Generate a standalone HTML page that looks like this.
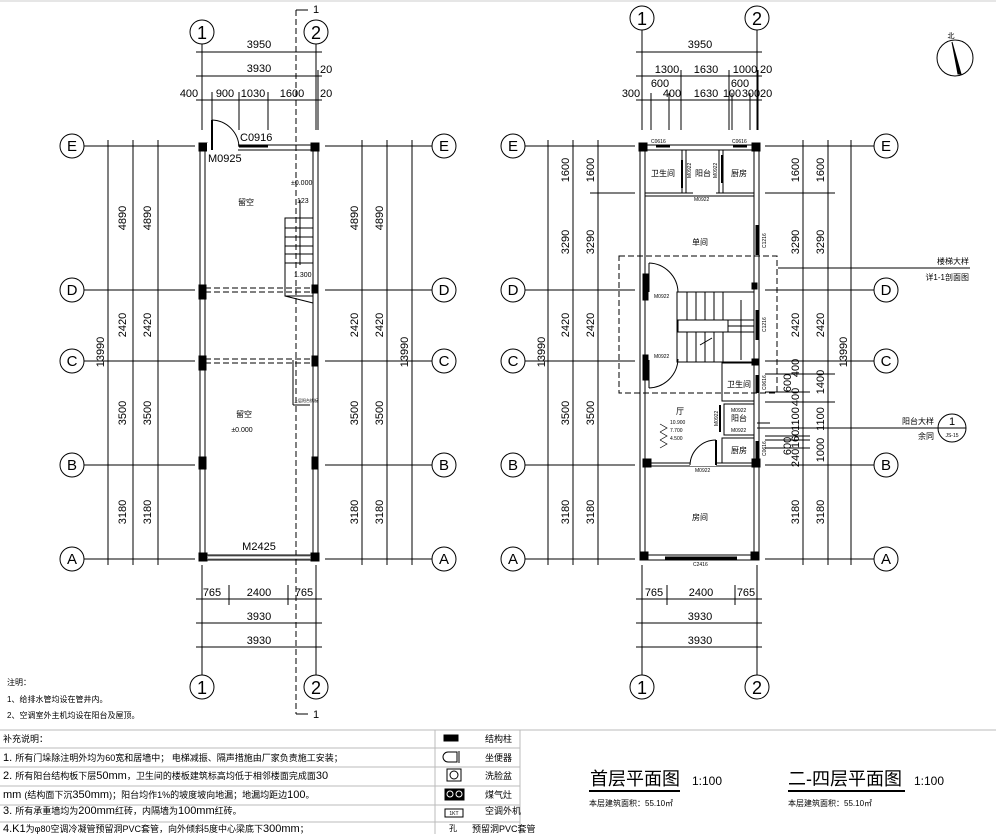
<!DOCTYPE html>
<html><head><meta charset="utf-8"><style>
html,body{margin:0;padding:0;background:#fff;}
svg{display:block;font-family:"Liberation Sans","Noto Sans CJK SC",sans-serif;}
.t{font-size:11px;fill:#000;}
.s{font-size:7px;fill:#000;}
.c{font-size:8px;fill:#000;}
.tb{font-size:9px;fill:#000;}
</style></head><body>
<svg width="996" height="834" viewBox="0 0 996 834" xmlns="http://www.w3.org/2000/svg" stroke="#000" fill="none" stroke-width="1">
<rect x="0" y="0" width="996" height="834" fill="#fff" stroke="none"/>
<line x1="0" y1="1" x2="996" y2="1" stroke="#ccc"/>

<!-- ================= LEFT PLAN ================= -->
<g>
<circle cx="202" cy="32" r="12"/><circle cx="316" cy="32" r="12"/>
<text x="202" y="39" class="t" style="font-size:18px" text-anchor="middle" stroke="none" fill="#000">1</text>
<text x="316" y="39" class="t" style="font-size:18px" text-anchor="middle" stroke="none" fill="#000">2</text>
<line x1="202" y1="44" x2="202" y2="130"/><line x1="316" y1="44" x2="316" y2="130"/>
<line x1="212" y1="92" x2="212" y2="130"/><line x1="239" y1="92" x2="239" y2="130"/><line x1="268" y1="92" x2="268" y2="130"/><line x1="318" y1="70" x2="318" y2="130"/>
<line x1="196" y1="52" x2="322" y2="52"/><line x1="196" y1="76" x2="322" y2="76"/><line x1="196" y1="100" x2="322" y2="100"/>
<g stroke="none" class="t">
<text x="259" y="48" text-anchor="middle">3950</text>
<text x="259" y="72" text-anchor="middle">3930</text>
<text x="320" y="73">20</text>
<text x="189" y="97" text-anchor="middle">400</text>
<text x="225" y="97" text-anchor="middle">900</text>
<text x="253" y="97" text-anchor="middle">1030</text>
<text x="292" y="97" text-anchor="middle">1600</text>
<text x="320" y="97">20</text>
</g>
<rect x="200" y="145" width="118" height="415"/>
<rect x="205" y="150" width="108" height="405"/>
<rect x="199" y="143" width="8" height="8" fill="#000"/><rect x="311" y="143" width="8" height="8" fill="#000"/>
<rect x="199" y="285" width="7" height="14" fill="#000"/><rect x="312" y="285" width="6" height="8" fill="#000"/>
<rect x="199" y="356" width="7" height="14" fill="#000"/><rect x="312" y="356" width="6" height="10" fill="#000"/>
<rect x="199" y="457" width="7" height="12" fill="#000"/><rect x="312" y="457" width="6" height="12" fill="#000"/>
<rect x="199" y="553" width="8" height="8" fill="#000"/><rect x="311" y="553" width="8" height="8" fill="#000"/>
<rect x="207" y="143" width="31" height="9" fill="#fff" stroke="none"/>
<line x1="212" y1="120" x2="212" y2="150" stroke-width="2"/>
<path d="M212 120 A28 28 0 0 1 239 147"/>
<line x1="239" y1="146" x2="268" y2="146" stroke-width="3"/>
<text x="240" y="141" class="t" stroke="none">C0916</text>
<text x="208" y="162" class="t" stroke="none">M0925</text>
<g stroke-dasharray="6,3">
<line x1="205" y1="288" x2="313" y2="288"/><line x1="205" y1="292" x2="313" y2="292"/>
<line x1="205" y1="359" x2="313" y2="359"/><line x1="205" y1="363" x2="313" y2="363"/>
<line x1="296" y1="10" x2="296" y2="714"/>
</g>
<polyline points="296,10 308,10"/><polyline points="296,714 308,714"/>
<text x="313" y="13" class="t" stroke="none">1</text><text x="313" y="718" class="t" stroke="none">1</text>
<rect x="285" y="218" width="28" height="78"/>
<g>
<line x1="285" y1="228" x2="313" y2="228"/><line x1="285" y1="237" x2="313" y2="237"/><line x1="285" y1="246" x2="313" y2="246"/><line x1="285" y1="254" x2="313" y2="254"/><line x1="285" y1="263" x2="313" y2="263"/>
</g>
<line x1="300" y1="200" x2="300" y2="265"/><line x1="285" y1="296" x2="313" y2="303"/>
<line x1="293" y1="360" x2="293" y2="405"/><line x1="293" y1="405" x2="310" y2="405"/>
<text x="294" y="402" class="s" stroke="none" style="font-size:4px">上层阳台挑板</text>
<text x="291" y="185" class="s" stroke="none">±0.000</text>
<text x="297" y="203" class="s" stroke="none">123</text>
<text x="294" y="277" class="s" stroke="none">1.300</text>
<text x="246" y="205" class="c" stroke="none" text-anchor="middle">留空</text>
<text x="244" y="417" class="c" stroke="none" text-anchor="middle">留空</text>
<text x="242" y="432" class="s" stroke="none" text-anchor="middle">±0.000</text>
<line x1="208" y1="557" x2="310" y2="557" stroke="#fff" stroke-width="3"/>
<line x1="208" y1="556" x2="310" y2="556" stroke-width="0.6"/><line x1="208" y1="559" x2="310" y2="559" stroke-width="0.6"/>
<text x="259" y="550" class="t" stroke="none" text-anchor="middle">M2425</text>
<g>
<line x1="84" y1="146" x2="195" y2="146"/><line x1="325" y1="146" x2="432" y2="146"/>
<line x1="84" y1="290" x2="195" y2="290"/><line x1="325" y1="290" x2="432" y2="290"/>
<line x1="84" y1="361" x2="195" y2="361"/><line x1="325" y1="361" x2="432" y2="361"/>
<line x1="84" y1="465" x2="195" y2="465"/><line x1="325" y1="465" x2="432" y2="465"/>
<line x1="84" y1="559" x2="195" y2="559"/><line x1="325" y1="559" x2="432" y2="559"/>
<line x1="108" y1="140" x2="108" y2="565"/><line x1="133" y1="140" x2="133" y2="565"/><line x1="158" y1="140" x2="158" y2="565"/>
<line x1="362" y1="140" x2="362" y2="565"/><line x1="387" y1="140" x2="387" y2="565"/><line x1="412" y1="140" x2="412" y2="565"/>
</g>
<g>
<circle cx="72" cy="146" r="12"/><circle cx="72" cy="290" r="12"/><circle cx="72" cy="361" r="12"/><circle cx="72" cy="465" r="12"/><circle cx="72" cy="559" r="12"/>
<circle cx="444" cy="146" r="12"/><circle cx="444" cy="290" r="12"/><circle cx="444" cy="361" r="12"/><circle cx="444" cy="465" r="12"/><circle cx="444" cy="559" r="12"/>
</g>
<g stroke="none" class="t" style="font-size:15px" text-anchor="middle">
<text x="72" y="151">E</text><text x="72" y="295">D</text><text x="72" y="366">C</text><text x="72" y="470">B</text><text x="72" y="564">A</text>
<text x="444" y="151">E</text><text x="444" y="295">D</text><text x="444" y="366">C</text><text x="444" y="470">B</text><text x="444" y="564">A</text>
</g>
<g stroke="none" class="t" text-anchor="middle">
<text transform="translate(126,218) rotate(-90)">4890</text><text transform="translate(151,218) rotate(-90)">4890</text>
<text transform="translate(126,325) rotate(-90)">2420</text><text transform="translate(151,325) rotate(-90)">2420</text>
<text transform="translate(126,413) rotate(-90)">3500</text><text transform="translate(151,413) rotate(-90)">3500</text>
<text transform="translate(126,512) rotate(-90)">3180</text><text transform="translate(151,512) rotate(-90)">3180</text>
<text transform="translate(104,352) rotate(-90)">13990</text>
<text transform="translate(358,218) rotate(-90)">4890</text><text transform="translate(383,218) rotate(-90)">4890</text>
<text transform="translate(358,325) rotate(-90)">2420</text><text transform="translate(383,325) rotate(-90)">2420</text>
<text transform="translate(358,413) rotate(-90)">3500</text><text transform="translate(383,413) rotate(-90)">3500</text>
<text transform="translate(358,512) rotate(-90)">3180</text><text transform="translate(383,512) rotate(-90)">3180</text>
<text transform="translate(408,352) rotate(-90)">13990</text>
</g>
<line x1="202" y1="565" x2="202" y2="675"/><line x1="316" y1="565" x2="316" y2="675"/>
<line x1="229" y1="585" x2="229" y2="605"/><line x1="288" y1="585" x2="288" y2="605"/>
<line x1="196" y1="599" x2="322" y2="599"/><line x1="196" y1="623" x2="322" y2="623"/><line x1="196" y1="647" x2="322" y2="647"/>
<g stroke="none" class="t" text-anchor="middle">
<text x="212" y="596">765</text><text x="259" y="596">2400</text><text x="304" y="596">765</text>
<text x="259" y="620">3930</text><text x="259" y="644">3930</text>
</g>
<circle cx="202" cy="687" r="12"/><circle cx="316" cy="687" r="12"/>
<text x="202" y="694" class="t" style="font-size:18px" text-anchor="middle" stroke="none">1</text>
<text x="316" y="694" class="t" style="font-size:18px" text-anchor="middle" stroke="none">2</text>
</g>

<!-- ================= RIGHT PLAN ================= -->
<g>
<circle cx="642" cy="18" r="12"/><circle cx="757" cy="18" r="12"/>
<text x="642" y="25" class="t" style="font-size:18px" text-anchor="middle" stroke="none" fill="#000">1</text>
<text x="757" y="25" class="t" style="font-size:18px" text-anchor="middle" stroke="none" fill="#000">2</text>
<line x1="642" y1="30" x2="642" y2="130"/><line x1="757" y1="30" x2="757" y2="130"/>
<line x1="651" y1="93" x2="651" y2="130"/><line x1="669" y1="93" x2="669" y2="130"/><line x1="681" y1="70" x2="681" y2="130"/>
<line x1="729" y1="70" x2="729" y2="130"/><line x1="732" y1="93" x2="732" y2="130"/><line x1="750" y1="93" x2="750" y2="130"/><line x1="758" y1="70" x2="758" y2="130"/>
<line x1="636" y1="52" x2="762" y2="52"/><line x1="636" y1="76" x2="762" y2="76"/><line x1="636" y1="100" x2="762" y2="100"/>
<g stroke="none" class="t">
<text x="700" y="48" text-anchor="middle">3950</text>
<text x="667" y="73" text-anchor="middle">1300</text><text x="706" y="73" text-anchor="middle">1630</text><text x="745" y="73" text-anchor="middle">1000</text><text x="760" y="73">20</text>
<text x="660" y="87" text-anchor="middle">600</text><text x="740" y="87" text-anchor="middle">600</text>
<text x="631" y="97" text-anchor="middle">300</text><text x="672" y="97" text-anchor="middle">400</text><text x="706" y="97" text-anchor="middle">1630</text><text x="732" y="97" text-anchor="middle">100</text><text x="751" y="97" text-anchor="middle">300</text><text x="760" y="97">20</text>
</g>
<rect x="640" y="145" width="119" height="415"/>
<rect x="645" y="150" width="109" height="405"/>
<rect x="639" y="143" width="8" height="8" fill="#000"/><rect x="752" y="143" width="8" height="8" fill="#000"/>
<rect x="640" y="552" width="8" height="8" fill="#000"/><rect x="751" y="552" width="8" height="8" fill="#000"/>
<rect x="643" y="459" width="8" height="8" fill="#000"/><rect x="752" y="459" width="8" height="8" fill="#000"/>
<rect x="643" y="274" width="5" height="26" fill="#000"/><rect x="752" y="283" width="5" height="6" fill="#000"/>
<rect x="643" y="355" width="5" height="25" fill="#000"/><rect x="752" y="359" width="6" height="6" fill="#000"/>
<line x1="656" y1="146" x2="670" y2="146" stroke-width="3"/><line x1="733" y1="146" x2="747" y2="146" stroke-width="3"/>
<line x1="757" y1="225" x2="757" y2="255" stroke-width="3"/><line x1="757" y1="310" x2="757" y2="340" stroke-width="3"/>
<line x1="757" y1="375" x2="757" y2="393" stroke-width="3"/><line x1="757" y1="441" x2="757" y2="460" stroke-width="3"/>
<line x1="665" y1="558" x2="737" y2="558" stroke-width="3"/>
<rect x="645" y="150" width="37" height="43"/><rect x="686" y="150" width="33" height="43"/><rect x="723" y="150" width="31" height="43"/>
<rect x="645" y="193" width="109" height="3"/>
<line x1="682" y1="160" x2="682" y2="188" stroke-width="2"/><line x1="722" y1="155" x2="722" y2="183" stroke-width="2"/>
<line x1="693" y1="194" x2="716" y2="194" stroke="#fff" stroke-width="3"/>
<path d="M649 263 A30 30 0 0 1 678 292"/><line x1="649" y1="263" x2="649" y2="292"/>
<path d="M649 388 A30 30 0 0 0 678 359"/><line x1="649" y1="388" x2="649" y2="360"/>
<rect x="677" y="292" width="77" height="70"/>
<rect x="678" y="320" width="50" height="12"/>
<g>
<line x1="687" y1="292" x2="687" y2="320"/><line x1="696" y1="292" x2="696" y2="320"/><line x1="705" y1="292" x2="705" y2="320"/><line x1="714" y1="292" x2="714" y2="320"/><line x1="723" y1="292" x2="723" y2="320"/>
<line x1="687" y1="332" x2="687" y2="362"/><line x1="696" y1="332" x2="696" y2="362"/><line x1="705" y1="332" x2="705" y2="362"/><line x1="714" y1="332" x2="714" y2="362"/><line x1="723" y1="332" x2="723" y2="362"/>
<line x1="728" y1="320" x2="754" y2="320"/><line x1="728" y1="326" x2="754" y2="326"/><line x1="728" y1="332" x2="754" y2="332"/>
<line x1="741" y1="300" x2="741" y2="360"/><line x1="700" y1="345" x2="712" y2="338"/>
</g>
<rect x="722" y="363" width="32" height="38"/><rect x="724" y="404" width="30" height="31"/><rect x="722" y="438" width="32" height="25"/>
<line x1="720" y1="405" x2="720" y2="432" stroke-width="2"/>
<line x1="645" y1="463" x2="754" y2="463"/><line x1="645" y1="466" x2="754" y2="466"/>
<line x1="690" y1="464" x2="716" y2="464" stroke="#fff" stroke-width="4"/>
<path d="M690 465 A26 26 0 0 1 716 440"/><line x1="716" y1="440" x2="716" y2="465" stroke-width="2"/>
<line x1="757" y1="423" x2="770" y2="423"/><line x1="757" y1="428" x2="770" y2="428"/>
<rect x="619" y="256" width="158" height="137" stroke-dasharray="6,3"/>
<line x1="778" y1="268" x2="970" y2="268"/>
<line x1="757" y1="428" x2="938" y2="428"/>
<circle cx="952" cy="428" r="14"/><line x1="938" y1="428" x2="966" y2="428"/>
<g stroke="none" class="c">
<text x="969" y="264" text-anchor="end">楼梯大样</text>
<text x="969" y="280" text-anchor="end">详1-1剖面图</text>
<text x="934" y="424" text-anchor="end">阳台大样</text>
<text x="934" y="439" text-anchor="end">余同</text>
<text x="952" y="425" class="t" text-anchor="middle">1</text>
<text x="952" y="437" class="s" style="font-size:5px" text-anchor="middle">JS-15</text>
<text x="663" y="176" text-anchor="middle">卫生间</text><text x="703" y="176" text-anchor="middle">阳台</text><text x="739" y="176" text-anchor="middle">厨房</text>
<text x="700" y="245" text-anchor="middle">单间</text>
<text x="739" y="387" text-anchor="middle">卫生间</text><text x="739" y="421" text-anchor="middle">阳台</text><text x="739" y="453" text-anchor="middle">厨房</text>
<text x="680" y="414" text-anchor="middle">厅</text>
<text x="700" y="520" text-anchor="middle">房间</text>
</g>
<g stroke="none" class="s" style="font-size:5px">
<text x="651" y="143">C0616</text><text x="732" y="143">C0616</text>
<text x="694" y="201">M0922</text><text x="654" y="298">M0922</text><text x="654" y="358">M0922</text>
<text x="731" y="412">M0922</text><text x="731" y="432">M0922</text><text x="695" y="472">M0922</text>
<text x="693" y="566">C2416</text>
<text x="670" y="424">10.900</text><text x="670" y="432">7.700</text><text x="670" y="440">4.500</text>
</g>
<g stroke="none" class="s" style="font-size:5px">
<text transform="translate(691,178) rotate(-90)">M0922</text>
<text transform="translate(717,178) rotate(-90)">M0922</text>
<text transform="translate(766,248) rotate(-90)">C1216</text>
<text transform="translate(766,332) rotate(-90)">C1216</text>
<text transform="translate(766,390) rotate(-90)">C0616</text>
<text transform="translate(766,456) rotate(-90)">C0616</text>
<text transform="translate(718,426) rotate(-90)">M0922</text>
</g>
<path d="M660 424 l7 4 l-7 4 M660 432 l7 4 l-7 4 M660 440 l7 4 l-7 4" stroke-width="0.7"/>
<g>
<line x1="525" y1="146" x2="635" y2="146"/><line x1="765" y1="146" x2="874" y2="146"/>
<line x1="525" y1="290" x2="635" y2="290"/><line x1="765" y1="290" x2="874" y2="290"/>
<line x1="525" y1="361" x2="635" y2="361"/><line x1="765" y1="361" x2="874" y2="361"/>
<line x1="525" y1="465" x2="635" y2="465"/><line x1="765" y1="465" x2="874" y2="465"/>
<line x1="525" y1="559" x2="635" y2="559"/><line x1="765" y1="559" x2="874" y2="559"/>
<line x1="548" y1="140" x2="548" y2="565"/><line x1="573" y1="140" x2="573" y2="565"/><line x1="598" y1="140" x2="598" y2="565"/>
<line x1="803" y1="140" x2="803" y2="565"/><line x1="828" y1="140" x2="828" y2="565"/><line x1="851" y1="140" x2="851" y2="565"/>
<line x1="765" y1="193" x2="835" y2="193"/><line x1="590" y1="193" x2="635" y2="193"/>
<line x1="765" y1="374" x2="835" y2="374"/><line x1="765" y1="392" x2="810" y2="392"/><line x1="765" y1="402" x2="835" y2="402"/>
<line x1="765" y1="436" x2="810" y2="436"/><line x1="765" y1="440" x2="810" y2="440"/><line x1="765" y1="448" x2="810" y2="448"/>
</g>
<g>
<circle cx="513" cy="146" r="12"/><circle cx="513" cy="290" r="12"/><circle cx="513" cy="361" r="12"/><circle cx="513" cy="465" r="12"/><circle cx="513" cy="559" r="12"/>
<circle cx="886" cy="146" r="12"/><circle cx="886" cy="290" r="12"/><circle cx="886" cy="361" r="12"/><circle cx="886" cy="465" r="12"/><circle cx="886" cy="559" r="12"/>
</g>
<g stroke="none" class="t" style="font-size:15px" text-anchor="middle">
<text x="513" y="151">E</text><text x="513" y="295">D</text><text x="513" y="366">C</text><text x="513" y="470">B</text><text x="513" y="564">A</text>
<text x="886" y="151">E</text><text x="886" y="295">D</text><text x="886" y="366">C</text><text x="886" y="470">B</text><text x="886" y="564">A</text>
</g>
<g stroke="none" class="t" text-anchor="middle">
<text transform="translate(569,170) rotate(-90)">1600</text><text transform="translate(594,170) rotate(-90)">1600</text>
<text transform="translate(569,242) rotate(-90)">3290</text><text transform="translate(594,242) rotate(-90)">3290</text>
<text transform="translate(569,325) rotate(-90)">2420</text><text transform="translate(594,325) rotate(-90)">2420</text>
<text transform="translate(569,413) rotate(-90)">3500</text><text transform="translate(594,413) rotate(-90)">3500</text>
<text transform="translate(569,512) rotate(-90)">3180</text><text transform="translate(594,512) rotate(-90)">3180</text>
<text transform="translate(545,352) rotate(-90)">13990</text>
<text transform="translate(799,170) rotate(-90)">1600</text><text transform="translate(824,170) rotate(-90)">1600</text>
<text transform="translate(799,242) rotate(-90)">3290</text><text transform="translate(824,242) rotate(-90)">3290</text>
<text transform="translate(799,325) rotate(-90)">2420</text><text transform="translate(824,325) rotate(-90)">2420</text>
<text transform="translate(799,368) rotate(-90)">400</text><text transform="translate(791,383) rotate(-90)">600</text>
<text transform="translate(799,397) rotate(-90)">400</text><text transform="translate(824,382) rotate(-90)">1400</text>
<text transform="translate(799,419) rotate(-90)">1100</text><text transform="translate(824,419) rotate(-90)">1100</text>
<text transform="translate(799,439) rotate(-90)">160</text><text transform="translate(791,446) rotate(-90)">600</text>
<text transform="translate(799,458) rotate(-90)">240</text><text transform="translate(824,450) rotate(-90)">1000</text>
<text transform="translate(799,512) rotate(-90)">3180</text><text transform="translate(824,512) rotate(-90)">3180</text>
<text transform="translate(847,352) rotate(-90)">13990</text>
</g>
<line x1="642" y1="565" x2="642" y2="675"/><line x1="757" y1="565" x2="757" y2="675"/>
<line x1="667" y1="585" x2="667" y2="605"/><line x1="735" y1="585" x2="735" y2="605"/>
<line x1="636" y1="599" x2="762" y2="599"/><line x1="636" y1="623" x2="762" y2="623"/><line x1="636" y1="647" x2="762" y2="647"/>
<g stroke="none" class="t" text-anchor="middle">
<text x="654" y="596">765</text><text x="701" y="596">2400</text><text x="746" y="596">765</text>
<text x="700" y="620">3930</text><text x="700" y="644">3930</text>
</g>
<circle cx="642" cy="687" r="12"/><circle cx="757" cy="687" r="12"/>
<text x="642" y="694" class="t" style="font-size:18px" text-anchor="middle" stroke="none">1</text>
<text x="757" y="694" class="t" style="font-size:18px" text-anchor="middle" stroke="none">2</text>
</g>

<circle cx="955" cy="58" r="18"/>
<polygon points="952,42 961,74 958,74" fill="#000"/>
<text x="951" y="38" class="s" stroke="none" text-anchor="middle">北</text>

<g stroke="none" class="c">
<text x="7" y="685">注明：</text>
<text x="7" y="702">1、给排水管均设在管井内。</text>
<text x="7" y="718">2、空调室外主机均设在阳台及屋顶。</text>
</g>
<g stroke="#bbb">
<line x1="0" y1="730" x2="996" y2="730" stroke="#ddd" stroke-width="2"/>
<line x1="0" y1="748" x2="520" y2="748"/><line x1="0" y1="767" x2="520" y2="767"/>
<line x1="0" y1="786" x2="520" y2="786"/><line x1="0" y1="805" x2="520" y2="805"/><line x1="0" y1="822" x2="520" y2="822"/>
<line x1="435" y1="730" x2="435" y2="834"/><line x1="520" y1="730" x2="520" y2="834"/>
</g>
<g stroke="none" class="tb">
<text x="3" y="742">补充说明：</text>
<text x="3" y="761"><tspan style="font-size:11px">1. </tspan>所有门垛除注明外均为60宽和居墙中；  电梯减振、隔声措施由厂家负责施工安装；</text>
<text x="3" y="779"><tspan style="font-size:11px">2. </tspan>所有阳台结构板下层<tspan style="font-size:11px">50mm</tspan>，卫生间的楼板建筑标高均低于相邻楼面完成面<tspan style="font-size:11px">30</tspan></text>
<text x="3" y="798"><tspan style="font-size:11px">mm </tspan>(结构面下沉<tspan style="font-size:11px">350mm</tspan>)；阳台均作1%的坡度坡向地漏；地漏均距边<tspan style="font-size:11px">100</tspan>。</text>
<text x="3" y="814"><tspan style="font-size:11px">3. </tspan>所有承重墙均为<tspan style="font-size:11px">200mm</tspan>红砖，内隔墙为<tspan style="font-size:11px">100mm</tspan>红砖。</text>
<text x="3" y="832"><tspan style="font-size:11px">4.K1</tspan>为φ80空调冷凝管预留洞PVC套管，向外倾斜5度中心梁底下<tspan style="font-size:11px">300mm</tspan>；</text>
<text x="485" y="742">结构柱</text><text x="485" y="761">坐便器</text><text x="485" y="779">洗脸盆</text>
<text x="485" y="798">煤气灶</text><text x="485" y="814">空调外机</text><text x="472" y="832">预留洞PVC套管</text>
</g>
<rect x="444" y="735" width="14" height="6" fill="#000"/>
<path d="M457 752 h-9 a5 5 0 0 0 0 10 h9 z M457 752 v10 M459 751 v12"/>
<rect x="447" y="769" width="14" height="12"/><circle cx="454" cy="775" r="4"/>
<rect x="445" y="789" width="19" height="11" fill="#000"/><circle cx="450" cy="794" r="3" stroke="#fff"/><circle cx="459" cy="794" r="3" stroke="#fff"/>
<rect x="445" y="809" width="18" height="8"/><text x="454" y="815" class="s" style="font-size:5px" stroke="none" text-anchor="middle">1KT</text>
<text x="449" y="831" class="c" stroke="none">孔</text>

<g stroke="none">
<text x="590" y="785" style="font-size:18px" fill="#000">首层平面图</text>
<text x="692" y="785" style="font-size:12px" fill="#000">1:100</text>
<text x="589" y="806" style="font-size:8px" fill="#000">本层建筑面积：55.10㎡</text>
<text x="788" y="785" style="font-size:18px" fill="#000">二-四层平面图</text>
<text x="914" y="785" style="font-size:12px" fill="#000">1:100</text>
<text x="788" y="806" style="font-size:8px" fill="#000">本层建筑面积：55.10㎡</text>
</g>
<line x1="589" y1="791" x2="680" y2="791" stroke-width="2"/>
<line x1="788" y1="791" x2="905" y2="791" stroke-width="2"/>
</svg>
</body></html>
